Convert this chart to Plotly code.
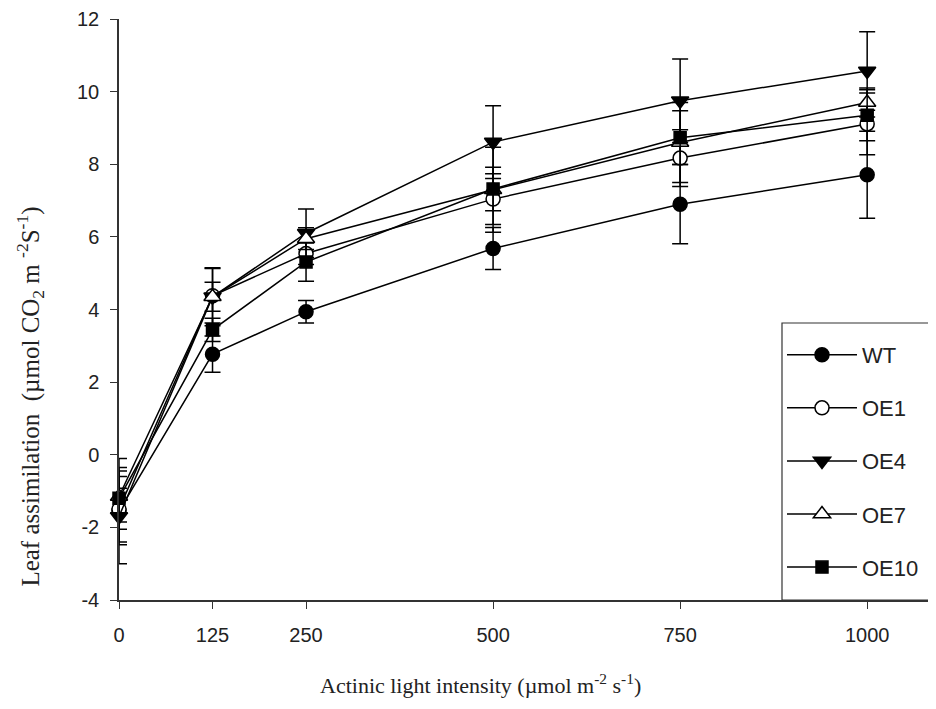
import plotly.graph_objects as go

light = [0, 125, 250, 500, 750, 1000]
x_tick_labels = ["0", "125", "250", "500", "750", "1000"]
y_ticks = [-4, -2, 0, 2, 4, 6, 8, 10, 12]
y_tick_labels = ["-4", "-2", "0", "2", "4", "6", "8", "10", "12"]

wt = [-1.55, 2.77, 3.94, 5.68, 6.90, 7.71]
wt_err = [1.45, 0.50, 0.31, 0.58, 1.09, 1.20]
oe1 = [-1.50, 4.38, 5.54, 7.04, 8.17, 9.11]
oe1_err = [0.90, 0.75, 0.30, 0.70, 0.78, 0.85]
oe4 = [-1.70, 4.35, 6.10, 8.61, 9.75, 10.57]
oe4_err = [0.78, 0.80, 0.67, 1.00, 1.15, 1.08]
oe7 = [-1.15, 4.35, 5.95, 7.30, 8.60, 9.70]
oe7_err = [0.70, 0.40, 0.30, 1.17, 1.10, 0.40]
oe10 = [-1.20, 3.44, 5.31, 7.32, 8.73, 9.35]
oe10_err = [0.85, 0.32, 0.53, 0.60, 0.74, 0.70]

series = [
    ("WT", wt, wt_err, "circle", "black", 14),
    ("OE1", oe1, oe1_err, "circle", "white", 14),
    ("OE4", oe4, oe4_err, "triangle-down", "black", 15),
    ("OE7", oe7, oe7_err, "triangle-up", "white", 15),
    ("OE10", oe10, oe10_err, "square", "black", 12),
]

fig = go.Figure()
for name, vals, errs, sym, fill, size in series:
    fig.add_trace(go.Scatter(
        x=light, y=vals, name=name, mode="lines+markers",
        legendgroup=name,
        line=dict(color="black", width=1.5),
        marker=dict(symbol=sym, size=size, color=fill,
                    line=dict(color="black", width=1.5)),
        error_y=dict(type="data", array=errs, visible=True, color="black",
                     thickness=1.5, width=8),
        cliponaxis=False,
    ))

tick_font = dict(family="Liberation Sans, Arial", size=20, color="#222")

# page body has an 8px default margin, so the figure is 8px smaller
fig.update_layout(
    width=928, height=701,
    paper_bgcolor="white", plot_bgcolor="white",
    margin=dict(l=111, r=0, t=11, b=109, autoexpand=False),
    font=dict(family="Liberation Sans, Arial", size=20, color="#222"),
    showlegend=True,
    legend=dict(
        x=0.8115, y=0.458, xanchor="left", yanchor="top",
        borderwidth=0, bgcolor="rgba(0,0,0,0)",
        font=dict(family="Liberation Sans, Arial", size=22, color="#222"),
        tracegroupgap=21.5, itemwidth=70,
    ),
    shapes=[
        dict(type="rect", xref="paper", yref="paper", x0=0.8115, x1=1.05,
             y0=0, y1=0.4768, line=dict(color="#333", width=1.2),
             fillcolor="white", layer="below"),
    ],
    xaxis=dict(
        range=[0, 1092], tickmode="array", tickvals=light, ticktext=x_tick_labels,
        showgrid=False, zeroline=False, showline=True, linecolor="#333", linewidth=1.5,
        ticks="outside", ticklen=7, tickwidth=1.2, tickcolor="#333",
        ticklabelstandoff=9, tickfont=tick_font, automargin=False,
    ),
    yaxis=dict(
        range=[-4, 12], tickmode="array", tickvals=y_ticks, ticktext=y_tick_labels,
        showgrid=False, zeroline=False, showline=True, linecolor="#333", linewidth=1.5,
        ticks="outside", ticklen=7, tickwidth=1.2, tickcolor="#333",
        ticklabelstandoff=7, tickfont=tick_font, automargin=False,
    ),
    annotations=[
        dict(text="Actinic light intensity (µmol m<sup>-2</sup> s<sup>-1</sup>)",
             xref="paper", yref="paper", x=0.442, y=-0.145, showarrow=False,
             xanchor="center", yanchor="middle",
             font=dict(family="Liberation Serif, Times New Roman", size=22, color="#222")),
        dict(text="Leaf assimilation  (µmol CO<sub>2</sub> m <sup>-2</sup>S<sup>-1</sup>)",
             xref="paper", yref="paper", x=-0.109, y=0.35, showarrow=False,
             textangle=-90, xanchor="center", yanchor="middle",
             font=dict(family="Liberation Serif, Times New Roman", size=25, color="#222")),
    ],
)

fig.write_html("out.html")
